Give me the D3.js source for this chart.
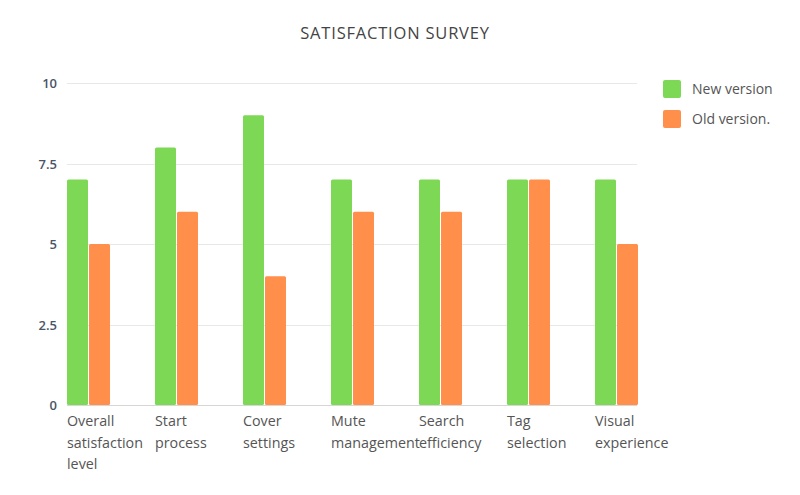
<!DOCTYPE html>
<html>
<head>
<meta charset="utf-8">
<script src="https://cdn.jsdelivr.net/npm/d3@7"></script>
<style>
  html, body { margin: 0; padding: 0; background: #fff; }
  svg { display: block; }
</style>
</head>
<body>
<svg id="chart" width="800" height="495"></svg>
<script>
const categories = ["Overall satisfaction level", "Start process", "Cover settings", "Mute management", "Search efficiency", "Tag selection", "Visual experience"];
const seriesNames = ["New version", "Old version."];
const newVersion = [7, 8, 9, 7, 7, 7, 7];
const oldVersion = [5, 6, 4, 6, 6, 7, 5];
const yTicks = [0, 2.5, 5, 7.5, 10];
const colors = ["#7dd955", "#ff8f4b"];

const svg = d3.select("#chart");
const font = "'Open Sans', 'Noto Sans', sans-serif";

const x = d3.scaleBand().domain(categories).range([67, 683]).paddingInner(0).paddingOuter(0);
const y = d3.scaleLinear().domain([0, 10]).range([405, 83]);
const plotRight = 637;
const barW = 21, barGap = 1;

svg.append("text")
  .attr("x", 395).attr("y", 39)
  .attr("text-anchor", "middle")
  .attr("font-family", font).attr("font-size", 16.5)
  .attr("fill", "#444").attr("letter-spacing", 0.8)
  .text("SATISFACTION SURVEY");

// grid
svg.append("g").selectAll("line").data(yTicks).join("line")
  .attr("x1", 67).attr("x2", plotRight)
  .attr("y1", d => Math.round(y(d)) + 0.5).attr("y2", d => Math.round(y(d)) + 0.5)
  .attr("stroke", d => d === 0 ? "#d6d6d6" : "#e8e8e8").attr("stroke-width", 1.2);

// y labels
svg.append("g").selectAll("text").data(yTicks).join("text")
  .attr("x", 57).attr("y", d => y(d) + 5)
  .attr("text-anchor", "end")
  .attr("font-family", font).attr("font-size", 13).attr("font-weight", 600)
  .attr("fill", "#4a5568")
  .text(d => d);

const series = [newVersion, oldVersion];
series.forEach((vals, si) => {
  svg.append("g").selectAll("rect").data(categories).join("rect")
    .attr("x", (c) => x(c) + si * (barW + barGap))
    .attr("y", (c, i) => y(vals[i]))
    .attr("width", barW)
    .attr("height", (c, i) => y(0) - y(vals[i]))
    .attr("rx", 1.5)
    .attr("fill", colors[si]);
});

// x labels
const xl = svg.append("g").selectAll("text").data(categories).join("text")
  .attr("x", c => x(c))
  .attr("y", 426)
  .attr("font-family", font).attr("font-size", 14.3)
  .attr("fill", "#555");
xl.each(function(c) {
  const t = d3.select(this);
  c.split(" ").forEach((w, i) => {
    t.append("tspan").attr("x", x(c)).attr("dy", i === 0 ? 0 : 21.5).text(w);
  });
});

// legend
const lg = svg.append("g").selectAll("g").data(seriesNames).join("g")
  .attr("transform", (d, i) => `translate(663, ${80 + i * 30})`);
lg.append("rect").attr("width", 18).attr("height", 18).attr("rx", 2)
  .attr("fill", (d, i) => colors[i]);
lg.append("text").attr("x", 29).attr("y", 14)
  .attr("font-family", font).attr("font-size", 14)
  .attr("fill", "#555").text(d => d);
</script>
</body>
</html>
